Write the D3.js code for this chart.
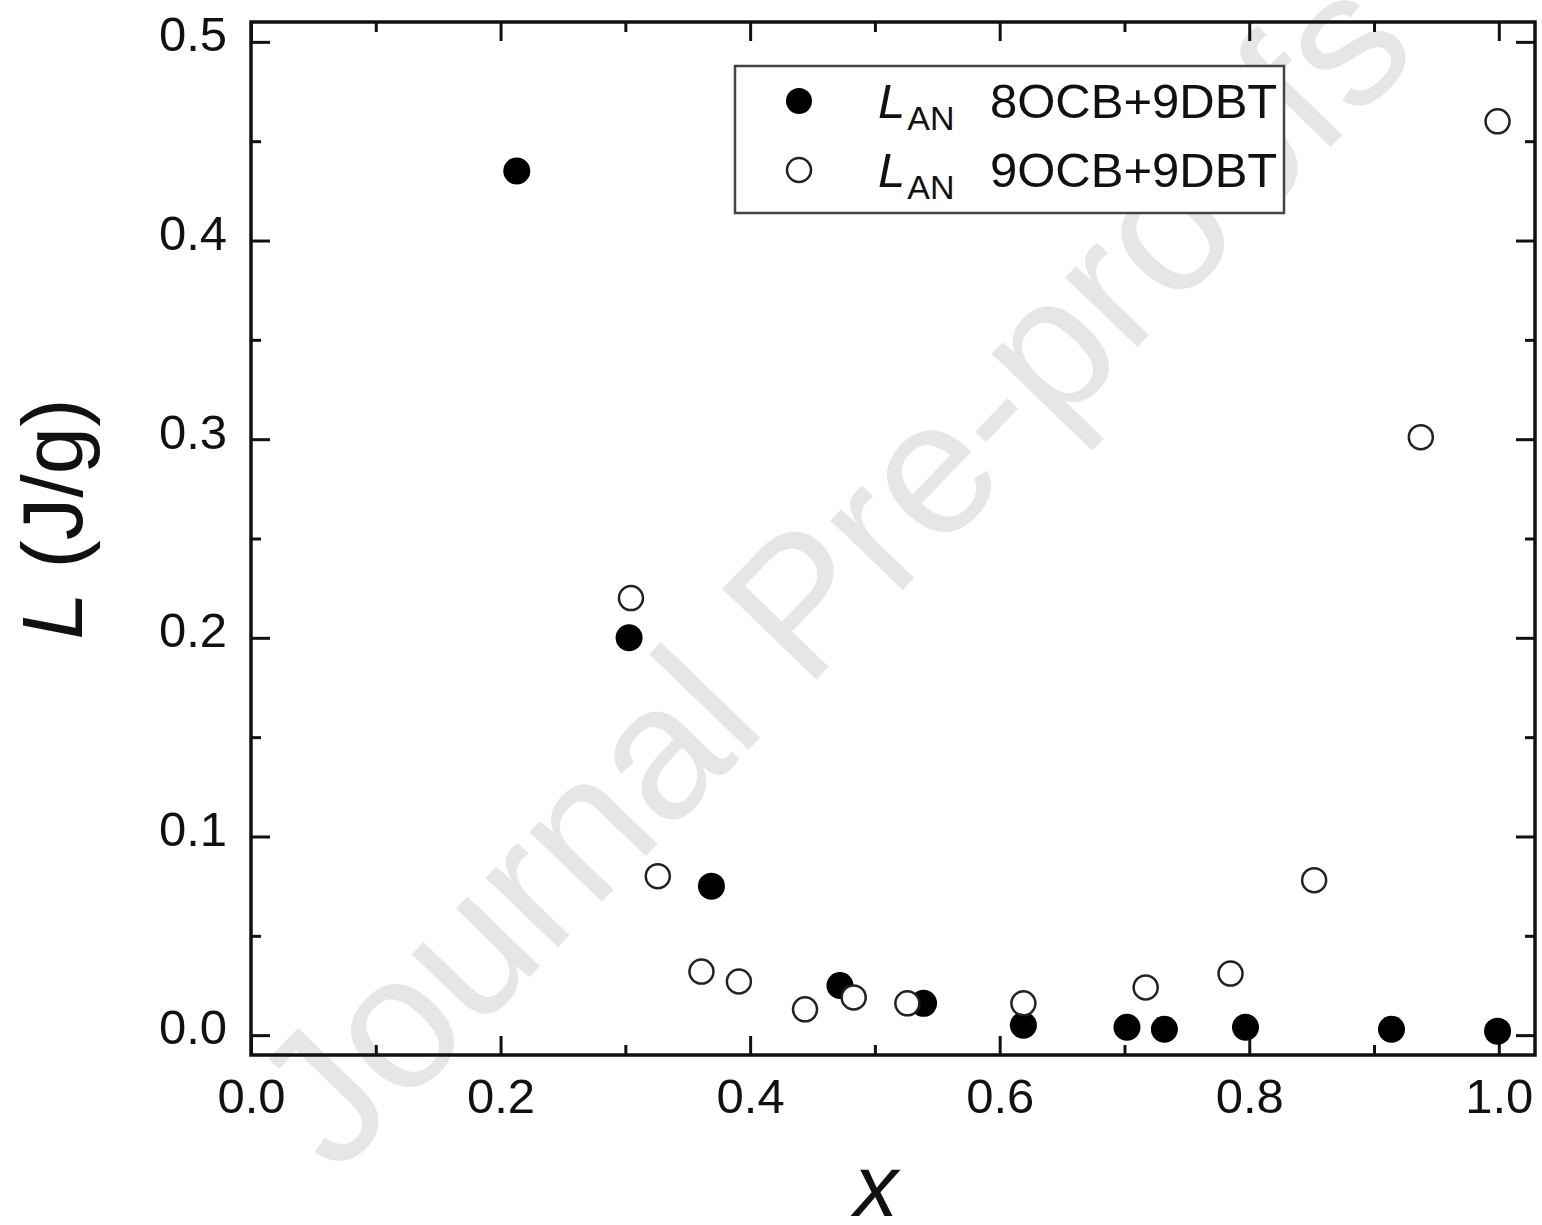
<!DOCTYPE html>
<html>
<head>
<meta charset="utf-8">
<script src="https://cdn.jsdelivr.net/npm/d3@7"></script>
<style>
  html, body { margin: 0; padding: 0; background: #fff; }
  svg { display: block; font-family: "Liberation Sans", Arial, Helvetica, sans-serif; }
</style>
</head>
<body>
<svg id="chart" width="1542" height="1225"></svg>
<script>
// Latent heat of the A–N transition versus mole fraction x
const series8X = [0.213, 0.303, 0.369, 0.472, 0.539, 0.619, 0.702, 0.732, 0.797, 0.914, 0.999];
const series8L = [0.435, 0.200, 0.075, 0.025, 0.016, 0.005, 0.004, 0.003, 0.004, 0.003, 0.002];

const series9X = [0.3045, 0.326, 0.361, 0.391, 0.444, 0.483, 0.526, 0.619, 0.717, 0.785, 0.852, 0.9375, 0.999];
const series9L = [0.220, 0.080, 0.032, 0.027, 0.013, 0.019, 0.016, 0.016, 0.024, 0.031, 0.078, 0.301, 0.460];

const seriesNames = ["8OCB+9DBT", "9OCB+9DBT"];

const xMajor = [0.0, 0.2, 0.4, 0.6, 0.8, 1.0];
const xMinor = [0.1, 0.3, 0.5, 0.7, 0.9];
const yMajor = [0.0, 0.1, 0.2, 0.3, 0.4, 0.5];
const yMinor = [0.05, 0.15, 0.25, 0.35, 0.45];

const svg = d3.select("#chart");
const plotLeft = 251, plotRight = 1535, plotTop = 22, plotBottom = 1055;

const x = d3.scaleLinear().domain([0, 1.029]).range([plotLeft, plotRight]);
const y = d3.scaleLinear().domain([-0.01, 0.51]).range([plotBottom, plotTop]);

// Watermark behind the plot
svg.append("text")
  .attr("transform", "translate(336,1177) rotate(-46)")
  .attr("font-size", 190)
  .attr("fill", "#e6e6e6")
  .text("Journal Pre-proofs");

const fontSize = 49;
const fmt = d3.format(".1f");

function styleAxis(g) {
  g.select(".domain").remove();
  g.selectAll(".tick line").attr("stroke", "#111").attr("stroke-width", 3);
  g.selectAll(".tick text").attr("font-size", fontSize).attr("fill", "#111")
    .attr("font-family", "\"Liberation Sans\", Arial, sans-serif");
}

// Bottom axis
svg.append("g").attr("transform", `translate(0,${plotBottom})`)
  .call(d3.axisBottom(x).tickValues(xMajor).tickFormat(fmt).tickSize(-19).tickPadding(23))
  .call(styleAxis);
svg.append("g").attr("transform", `translate(0,${plotBottom})`)
  .call(d3.axisBottom(x).tickValues(xMinor).tickFormat("").tickSize(-10))
  .call(styleAxis);
// Top axis
svg.append("g").attr("transform", `translate(0,${plotTop})`)
  .call(d3.axisTop(x).tickValues(xMajor).tickFormat("").tickSize(-19))
  .call(styleAxis);
svg.append("g").attr("transform", `translate(0,${plotTop})`)
  .call(d3.axisTop(x).tickValues(xMinor).tickFormat("").tickSize(-10))
  .call(styleAxis);
// Left axis
svg.append("g").attr("transform", `translate(${plotLeft},0)`)
  .call(d3.axisLeft(y).tickValues(yMajor).tickFormat(fmt).tickSize(-19).tickPadding(24))
  .call(styleAxis)
  .selectAll(".tick text").attr("dy", "0.18em");
svg.append("g").attr("transform", `translate(${plotLeft},0)`)
  .call(d3.axisLeft(y).tickValues(yMinor).tickFormat("").tickSize(-10))
  .call(styleAxis);
// Right axis
svg.append("g").attr("transform", `translate(${plotRight},0)`)
  .call(d3.axisRight(y).tickValues(yMajor).tickFormat("").tickSize(-19))
  .call(styleAxis);
svg.append("g").attr("transform", `translate(${plotRight},0)`)
  .call(d3.axisRight(y).tickValues(yMinor).tickFormat("").tickSize(-10))
  .call(styleAxis);

// Frame
svg.append("rect")
  .attr("x", plotLeft).attr("y", plotTop)
  .attr("width", plotRight - plotLeft).attr("height", plotBottom - plotTop)
  .attr("fill", "none").attr("stroke", "#111").attr("stroke-width", 3.5);

// Data points: filled series first, open series on top
const pts8 = series8X.map((v, i) => ({ x: v, l: series8L[i] }));
const pts9 = series9X.map((v, i) => ({ x: v, l: series9L[i] }));

svg.append("g").selectAll("circle").data(pts8).join("circle")
  .attr("cx", d => x(d.x)).attr("cy", d => y(d.l))
  .attr("r", 13.5).attr("fill", "#000");

svg.append("g").selectAll("circle").data(pts9).join("circle")
  .attr("cx", d => x(d.x)).attr("cy", d => y(d.l))
  .attr("r", 12).attr("fill", "#fff").attr("stroke", "#222").attr("stroke-width", 2.5);

// Legend
const lg = svg.append("g");
lg.append("rect").attr("x", 735).attr("y", 66).attr("width", 549).attr("height", 147)
  .attr("fill", "#fff").attr("stroke", "#444").attr("stroke-width", 2.5);
lg.append("circle").attr("cx", 799).attr("cy", 101).attr("r", 13).attr("fill", "#000");
lg.append("circle").attr("cx", 799).attr("cy", 170).attr("r", 12)
  .attr("fill", "#fff").attr("stroke", "#222").attr("stroke-width", 2.5);

const rows = [{ yb: 118, name: seriesNames[0] }, { yb: 187, name: seriesNames[1] }];
rows.forEach(r => {
  const t = lg.append("text").attr("x", 878).attr("y", r.yb).attr("font-size", fontSize).attr("fill", "#111");
  t.append("tspan").attr("font-style", "italic").text("L");
  t.append("tspan").attr("font-size", 34).attr("dy", 12).attr("dx", 2).text("AN");
  lg.append("text").attr("x", 990).attr("y", r.yb).attr("font-size", fontSize).attr("fill", "#111").text(r.name);
});

// Axis titles
svg.append("text").attr("x", 876).attr("y", 1216).attr("text-anchor", "middle")
  .attr("font-size", 88).attr("font-style", "italic").attr("fill", "#111").text("x");

const yt = svg.append("text").attr("transform", "translate(82,519) rotate(-90)")
  .attr("text-anchor", "middle").attr("font-size", 85).attr("fill", "#111");
yt.append("tspan").attr("font-style", "italic").text("L");
yt.append("tspan").text(" (J/g)");
</script>
</body>
</html>
